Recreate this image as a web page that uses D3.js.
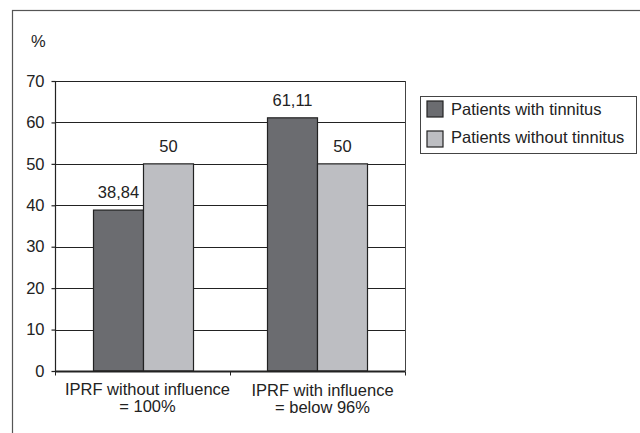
<!DOCTYPE html>
<html>
<head>
<meta charset="utf-8">
<script src="https://cdn.jsdelivr.net/npm/d3@7"></script>
<style>
  body { margin: 0; background: #fff; }
  svg { font-family: "Liberation Sans", Arial, sans-serif; }
</style>
</head>
<body>
<div id="chart"></div>
<script>
let categories = [['IPRF without influence', '= 100%'], ['IPRF with influence', '= below 96%']];
let seriesNames = ['Patients with tinnitus', 'Patients without tinnitus'];
let withTinnitus = [38.84, 61.11];
let withoutTinnitus = [50, 50];
let valueLabels = [['38,84', '61,11'], ['50', '50']];
let yTicks = [0, 10, 20, 30, 40, 50, 60, 70];
let colors = ['#6b6c70', '#bdbec2'];

let width = 640, height = 433;
let plot = { left: 55, top: 81, right: 405, bottom: 371 };
let fontSize = '16.5px';

let svg = d3.select('#chart').append('svg')
  .attr('width', width)
  .attr('height', height);

// outer frame
svg.append('rect')
   .attr('x', 12.5).attr('y', 10.5)
   .attr('width', 700).attr('height', 500)
   .attr('fill', 'none')
   .attr('stroke', '#555')
   .attr('stroke-width', 1.2);

let xScale = d3.scaleBand()
  .domain(d3.range(categories.length))
  .range([plot.left, plot.right]);

let inner = d3.scaleBand()
  .domain(d3.range(seriesNames.length))
  .range([0, xScale.bandwidth()])
  .paddingOuter(0.75)
  .paddingInner(0);

let yScale = d3.scaleLinear()
  .domain([0, 70])
  .range([plot.bottom, plot.top]);

// gridlines
svg.append('g')
   .selectAll('line')
   .data(yTicks.slice(1))
   .enter()
   .append('line')
   .attr('x1', plot.left).attr('x2', plot.right)
   .attr('y1', v => Math.round(yScale(v)) + 0.5)
   .attr('y2', v => Math.round(yScale(v)) + 0.5)
   .attr('stroke', '#222')
   .attr('stroke-width', 1.2);

// right border of plot
svg.append('line')
   .attr('x1', plot.right + 0.5).attr('x2', plot.right + 0.5)
   .attr('y1', plot.top).attr('y2', plot.bottom)
   .attr('stroke', '#444');

// bars
let series = [withTinnitus, withoutTinnitus];
series.forEach((vals, s) => {
  svg.append('g')
     .selectAll('rect')
     .data(vals)
     .enter()
     .append('rect')
     .attr('x', (v, i) => xScale(i) + inner(s) + (i === 0 ? 1 : 0))
     .attr('width', inner.bandwidth())
     .attr('y', v => yScale(v))
     .attr('height', v => plot.bottom - yScale(v))
     .attr('fill', colors[s])
     .attr('stroke', '#222')
     .attr('stroke-width', 1.2);

  svg.append('g')
     .selectAll('text')
     .data(vals)
     .enter()
     .append('text')
     .attr('x', (v, i) => xScale(i) + inner(s) + inner.bandwidth() / 2 + (i === 0 ? 1 : 0))
     .attr('y', v => yScale(v) - 12)
     .attr('text-anchor', 'middle')
     .style('font-size', fontSize)
     .attr('fill', '#222')
     .text((v, i) => valueLabels[s][i]);
});

// y axis
let yAxis = svg.append('g')
   .attr('transform', `translate(${plot.left + 0.5}, 0)`)
   .call(d3.axisLeft(yScale).tickValues(yTicks).tickSize(4).tickPadding(7));
yAxis.selectAll('text').style('font-size', fontSize).attr('fill', '#222').attr('font-family', 'Liberation Sans, Arial, sans-serif');
yAxis.selectAll('line, path').attr('stroke', '#222').attr('stroke-width', 1.2);
yAxis.select('path').attr('d', `M0,${plot.top}V${plot.bottom}`);

// x axis
let xAxisG = svg.append('g')
   .attr('transform', `translate(0, ${plot.bottom + 0.5})`);
xAxisG.append('line')
   .attr('x1', plot.left).attr('x2', plot.right + 0.5)
   .attr('stroke', '#222').attr('stroke-width', 2);
xAxisG.selectAll('line.tick')
   .data(d3.range(categories.length + 1))
   .enter()
   .append('line')
   .attr('class', 'tick')
   .attr('x1', i => (i < categories.length ? xScale(i) : plot.right) + 0.5)
   .attr('x2', i => (i < categories.length ? xScale(i) : plot.right) + 0.5)
   .attr('y1', 0).attr('y2', 4)
   .attr('stroke', '#222');

let xLabels = svg.append('g')
   .selectAll('text')
   .data(categories)
   .enter()
   .append('text')
   .attr('text-anchor', 'middle')
   .style('font-size', fontSize)
   .attr('fill', '#222');
xLabels.each(function(lines, i) {
  let t = d3.select(this);
  lines.forEach((line, k) => {
    t.append('tspan')
     .attr('x', xScale(i) + xScale.bandwidth() / 2 + 5)
     .attr('y', 395 + i + k * 17)
     .text(line);
  });
});

// unit label
svg.append('text')
   .attr('x', 31).attr('y', 47)
   .style('font-size', fontSize)
   .attr('fill', '#222')
   .text('%');

// legend
let legend = svg.append('g').attr('transform', 'translate(420.5, 96.5)');
legend.append('rect')
   .attr('width', 216).attr('height', 57)
   .attr('fill', '#fff')
   .attr('stroke', '#444');
seriesNames.forEach((name, i) => {
  legend.append('rect')
     .attr('x', 6.5).attr('y', 4.5 + i * 30)
     .attr('width', 16).attr('height', 16)
     .attr('fill', colors[i])
     .attr('stroke', '#222')
     .attr('stroke-width', 1.2);
  legend.append('text')
     .attr('x', 30.5).attr('y', 18 + i * 28.5)
     .style('font-size', fontSize)
     .attr('fill', '#222')
     .text(name);
});
</script>
</body>
</html>
